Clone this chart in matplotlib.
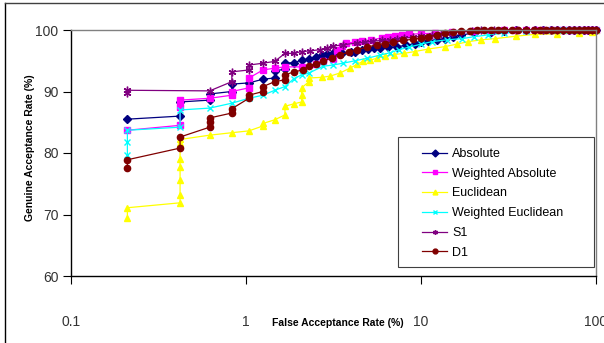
import matplotlib
matplotlib.use("Agg")
import matplotlib.pyplot as plt
from matplotlib.lines import Line2D
from matplotlib.patches import Rectangle

plt.rcParams['font.family'] = ['Liberation Sans', 'DejaVu Sans']

series_names = ["Absolute", "Weighted Absolute", "Euclidean",
                "Weighted Euclidean", "S1", "D1"]

abs_far = [0.21, 0.42, 0.42, 0.62, 0.62, 0.83, 0.83, 1.04, 1.25, 1.46, 1.46,
           1.67, 1.67, 1.88, 2.08, 2.29, 2.5, 2.71, 2.92, 3.13, 3.54, 3.96, 4.17,
           4.6, 5.0, 5.4, 5.83, 6.5, 7.3, 8.2, 9.2, 10, 11, 12.3, 13.7, 15.3, 17,
           20, 25, 30, 35, 40, 45, 50, 55, 60, 65, 70, 75, 80, 85, 90, 95, 100]
abs_gar = [85.5, 86.0, 88.3, 88.6, 89.6, 90.0, 91.2, 91.4, 92.0, 92.2, 93.4,
           93.6, 94.6, 94.7, 95.1, 95.3, 95.6, 96.0, 96.1, 96.2, 96.3, 96.4, 96.5,
           96.7, 96.9, 97.0, 97.1, 97.2, 97.3, 97.5, 97.8, 98.0, 98.2, 98.4, 98.6,
           98.9, 99.2, 99.5, 99.7, 99.9, 100, 100, 100, 100, 100, 100, 100, 100,
           100, 100, 100, 100, 100, 100]

wabs_far = [0.21, 0.42, 0.42, 0.42, 0.62, 0.83, 0.83, 1.04, 1.04, 1.25, 1.46,
            1.67, 2.08, 2.5, 2.75, 3.13, 3.33, 3.54, 3.75, 4.17, 4.6, 5.2, 6.0,
            6.5, 7.1, 7.8, 8.5, 10, 12, 15, 20, 25, 30, 35, 40, 45, 50, 55, 60,
            65, 70, 75, 80, 85, 90, 95, 100]
wabs_gar = [83.7, 84.5, 87.5, 88.6, 88.9, 89.4, 90.0, 90.6, 92.2, 93.5, 93.8,
            94.0, 94.0, 94.5, 95.0, 95.3, 96.8, 97.4, 97.9, 98.0, 98.2, 98.4, 98.7,
            98.9, 99.1, 99.2, 99.3, 99.4, 99.5, 99.6, 99.8, 99.9, 100, 100, 100,
            100, 100, 100, 100, 100, 100, 100, 100, 100, 100, 100, 100]

euc_far = [0.21, 0.21, 0.42, 0.42, 0.42, 0.42, 0.42, 0.42, 0.42, 0.62, 0.83,
           1.04, 1.25, 1.25, 1.46, 1.67, 1.67, 1.88, 2.08, 2.08, 2.08, 2.29, 2.29,
           2.71, 3.02, 3.44, 3.93, 4.3, 4.66, 5.1, 5.6, 6.2, 7.0, 8.0, 9.2, 11,
           13.7, 16, 18.6, 22, 26.5, 35, 45, 60, 80, 95, 100]
euc_gar = [69.4, 71.1, 71.9, 73.2, 75.6, 77.7, 79.0, 81.6, 82.2, 82.9, 83.3,
           83.6, 84.4, 84.8, 85.4, 86.2, 87.6, 88.0, 88.3, 89.5, 90.6, 91.6, 92.2,
           92.3, 92.5, 93.0, 93.8, 94.4, 94.9, 95.1, 95.4, 95.7, 96.0, 96.2, 96.5,
           96.9, 97.3, 97.7, 98.1, 98.4, 98.6, 99.0, 99.3, 99.4, 99.5, 99.6, 100]

weuc_far = [0.21, 0.21, 0.21, 0.42, 0.42, 0.62, 0.83, 1.04, 1.25, 1.46, 1.67,
            1.88, 2.08, 2.29, 2.75, 3.13, 3.58, 4.2, 4.91, 5.8, 6.65, 7.5, 8.5,
            10, 11.5, 14, 17.2, 20, 24, 30, 40, 50, 55, 60, 65, 70, 75, 80, 85,
            90, 95, 100]
weuc_gar = [79.7, 81.8, 83.7, 84.2, 87.0, 87.3, 88.1, 88.9, 89.4, 90.2, 90.8,
            92.1, 92.7, 93.0, 94.1, 94.3, 94.6, 95.0, 95.4, 95.9, 96.3, 96.8, 97.2,
            97.7, 98.1, 98.4, 98.6, 98.9, 99.2, 99.5, 99.8, 100, 100, 100, 100,
            100, 100, 100, 100, 100, 100, 100]

s1_far = [0.21, 0.21, 0.62, 0.83, 0.83, 1.04, 1.04, 1.25, 1.46, 1.67, 1.88,
          2.08, 2.32, 2.65, 2.9, 3.14, 3.6, 4.3, 4.8, 5.32, 6.0, 6.65, 7.3, 8.0,
          9.0, 10, 11.5, 13, 15, 17, 19.5, 22, 26, 30, 35, 40, 45, 50, 55, 60, 65,
          70, 75, 80, 85, 90, 95, 100]
s1_gar = [89.8, 90.2, 90.1, 91.6, 93.2, 93.5, 94.3, 94.6, 94.9, 96.2, 96.2,
          96.5, 96.6, 96.8, 97.1, 97.4, 97.6, 97.9, 98.0, 98.2, 98.3, 98.4, 98.5,
          98.7, 98.8, 99.0, 99.2, 99.4, 99.5, 99.7, 99.8, 100, 100, 100, 100, 100,
          100, 100, 100, 100, 100, 100, 100, 100, 100, 100, 100, 100]

d1_far = [0.21, 0.21, 0.42, 0.42, 0.62, 0.62, 0.62, 0.83, 0.83, 1.04, 1.04,
          1.25, 1.25, 1.46, 1.67, 1.67, 1.88, 2.12, 2.29, 2.5, 2.75, 3.1, 3.44,
          3.9, 4.3, 4.9, 5.6, 6.2, 6.9, 7.9, 9.0, 10, 11, 12.3, 13.7, 15.3, 17,
          19, 21, 23, 25, 27.5, 30, 33, 36, 40, 44, 48, 52, 56, 60, 65, 70, 75,
          80, 85, 90, 95, 100]
d1_gar = [77.6, 78.9, 80.8, 82.6, 84.2, 85.0, 85.7, 86.5, 87.2, 88.9, 89.4,
          90.0, 90.8, 91.6, 91.9, 92.7, 93.2, 93.5, 94.2, 94.5, 94.9, 95.5, 96.0,
          96.4, 96.8, 97.2, 97.6, 97.8, 98.0, 98.3, 98.5, 98.7, 98.9, 99.2, 99.5,
          99.7, 99.8, 99.9, 100, 100, 100, 100, 100, 100, 100, 100, 100, 100, 100,
          100, 100, 100, 100, 100, 100, 100, 100, 100, 100]

x_ticks = [0.1, 1, 10, 100]
x_tick_labels = ["0.1", "1", "10", "100"]
y_ticks = [60, 70, 80, 90, 100]

fig = plt.figure(figsize=(6.04, 3.43), dpi=100)
ax = fig.add_axes([71/604, 1-276/343, 525/604, 246/343])

styles = [
    dict(color="#000080", marker="D", ms=4.0),
    dict(color="#FF00FF", marker="s", ms=4.5),
    dict(color="#FFFF00", marker="^", ms=5.0),
    dict(color="#00FFFF", marker="x", ms=4.0, mew=1.0),
    dict(color="#800080", marker=(6, 2, 0), ms=5.5, mew=1.0),
    dict(color="#800000", marker="o", ms=4.5),
]
data = [(abs_far, abs_gar), (wabs_far, wabs_gar), (euc_far, euc_gar),
        (weuc_far, weuc_gar), (s1_far, s1_gar), (d1_far, d1_gar)]

for name, (xs, ys), st in zip(series_names, data, styles):
    ax.plot(xs, ys, label=name, lw=0.9, clip_on=False, **st)

ax.set_xscale("log")
ax.set_xlim(0.1, 100)
ax.set_ylim(60, 100)
ax.set_xticks(x_ticks)
ax.set_xticklabels(x_tick_labels)
ax.set_yticks(y_ticks)
ax.minorticks_off()
ax.tick_params(axis="both", direction="out", length=6, width=0.8,
               labelsize=10, labelcolor="#333333")
ax.tick_params(axis="x", pad=22)
ax.tick_params(axis="y", pad=3)

for side in ("top", "right"):
    ax.spines[side].set_color("#808080")
    ax.spines[side].set_linewidth(1.0)
for side in ("left", "bottom"):
    ax.spines[side].set_color("black")
    ax.spines[side].set_linewidth(1.0)

fig.text(338/604, 1-323/343, "False Acceptance Rate (%)", ha="center",
         va="center", fontsize=7.5, fontweight="bold")
fig.text(30/604, 1-148/343, "Genuine Acceptance Rate (%)", ha="center",
         va="center", rotation=90, fontsize=7.5, fontweight="bold")

# legend box (frame drawn separately so entries can be indented like the original)
ax.add_patch(Rectangle(((398-71)/525, (276-267)/246), 196/525, 130/246,
                       transform=ax.transAxes, facecolor="white",
                       edgecolor="#404040", lw=0.8, zorder=5, clip_on=False))
leg = ax.legend(loc="upper left", bbox_to_anchor=((422-71)/525, (276-148)/246),
                fontsize=9, frameon=False, numpoints=1, handlelength=2.0,
                handletextpad=0.4, labelspacing=0.62, borderpad=0.0,
                borderaxespad=0)
leg.set_zorder(6)
for h in leg.legend_handles:
    h.set_markersize(3.5)

fig.add_artist(Line2D([5/604, 5/604], [0, 1-3/343], color="black", lw=1,
                      transform=fig.transFigure))
fig.add_artist(Line2D([5/604, 1], [1-3/343, 1-3/343], color="#404040", lw=1,
                      transform=fig.transFigure))

fig.savefig("out.png", dpi=100)
